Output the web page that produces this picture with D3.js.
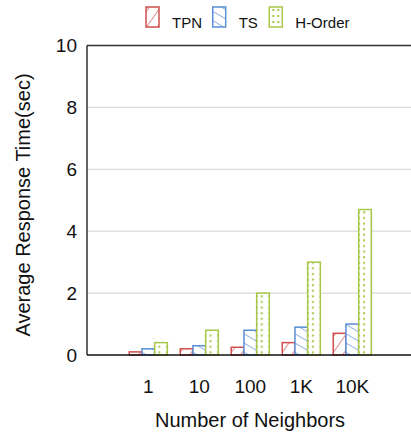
<!DOCTYPE html>
<html><head><meta charset="utf-8">
<script src="https://cdn.jsdelivr.net/npm/d3@7"></script>
<style>body{margin:0;background:#fff}svg{display:block;font-family:"Liberation Sans",Arial,sans-serif}</style>
</head><body><svg id="c" width="411" height="434"></svg>
<script>
const categories = ["1","10","100","1K","10K"];
const seriesNames = ["TPN","TS","H-Order"];
const TPN = [0.1,0.2,0.25,0.4,0.7];
const TS = [0.2,0.3,0.8,0.9,1.0];
const HOrder = [0.4,0.8,2.0,3.0,4.7];
const yTicks = [0,2,4,6,8,10];

const seriesData = [TPN, TS, HOrder];
const colors = ["#d0504e","#5a8ed6","#a8c648"];

const svg = d3.select("#c");
const L = 87, T = 45.5, B = 355, R = 430;
const y = d3.scaleLinear().domain([0,10]).range([B,T]);
const x0 = d3.scaleBand().domain(categories).range([122.8,377.8]);
const x1 = d3.scaleBand().domain(seriesNames).range([6.45,44.55]);

const defs = svg.append("defs");
// TPN "/" hatch
const p1 = defs.append("pattern").attr("id","pTPN").attr("patternUnits","userSpaceOnUse")
  .attr("width",9).attr("height",9).attr("patternTransform","rotate(35)");
p1.append("line").attr("x1",0).attr("y1",0).attr("x2",0).attr("y2",9).attr("stroke",colors[0]).attr("stroke-width",1.3);
const p2 = defs.append("pattern").attr("id","pTS").attr("patternUnits","userSpaceOnUse")
  .attr("width",8).attr("height",8).attr("patternTransform","rotate(-60)");
p2.append("line").attr("x1",0).attr("y1",0).attr("x2",0).attr("y2",8).attr("stroke",colors[1]).attr("stroke-width",1.3);

// grid
svg.append("g").selectAll("line").data(yTicks.filter(d=>d>0&&d<10)).join("line")
  .attr("x1",L).attr("x2",R).attr("y1",d=>y(d)).attr("y2",d=>y(d))
  .attr("stroke","#d9d9d9").attr("stroke-width",1.3);
svg.append("line").attr("x1",L).attr("x2",R).attr("y1",y(10)).attr("y2",y(10)).attr("stroke","#333").attr("stroke-width",1.3);

// bars
const groups = svg.append("g").selectAll("g").data(categories).join("g")
  .attr("transform",d=>`translate(${x0(d)},0)`);
groups.each(function(cat,ci){
  const g = d3.select(this);
  seriesNames.forEach((s,si)=>{
    const v = seriesData[si][ci];
    const bx = x0(cat)+x1(s), w = x1.bandwidth();
    let fill;
    if(si===0) fill="url(#pTPN)";
    else if(si===1) fill="url(#pTS)";
    else {
      const id="pH"+ci;
      const p = defs.append("pattern").attr("id",id).attr("patternUnits","userSpaceOnUse")
        .attr("x",bx).attr("y",B).attr("width",w).attr("height",5.6);
      p.append("rect").attr("x",w*0.3-1).attr("y",2).attr("width",2).attr("height",2).attr("fill",colors[2]);
      p.append("rect").attr("x",w*0.7-1).attr("y",2).attr("width",2).attr("height",2).attr("fill",colors[2]);
      fill="url(#"+id+")";
    }
    g.append("rect").attr("x",x1(s)).attr("y",y(v)).attr("width",w).attr("height",B-y(v))
      .attr("fill","#fff");
    g.append("rect").attr("x",x1(s)).attr("y",y(v)).attr("width",w).attr("height",B-y(v))
      .attr("fill",fill).attr("stroke",colors[si]).attr("stroke-width",1.5);
  });
});

// axes
svg.append("line").attr("x1",L).attr("x2",L).attr("y1",T).attr("y2",B).attr("stroke","#111").attr("stroke-width",1.3);
svg.append("line").attr("x1",L).attr("x2",R).attr("y1",B).attr("y2",B).attr("stroke","#111").attr("stroke-width",1.5);

const yAxis = d3.axisLeft(y).tickValues(yTicks).tickSize(0).tickPadding(10).tickFormat(d3.format("d"));
const ya = svg.append("g").attr("transform",`translate(${L},0)`).call(yAxis);
ya.select(".domain").remove();
ya.selectAll("text").attr("font-size",19).attr("fill","#111").attr("font-family","Liberation Sans, Arial, sans-serif");

const xAxis = d3.axisBottom(x0).tickSize(0).tickPadding(0);
const xa = svg.append("g").attr("transform",`translate(0,${B})`).call(xAxis);
xa.select(".domain").remove();
xa.selectAll("text").attr("font-size",19).attr("fill","#111").attr("dy",null).attr("y",38)
  .attr("font-family","Liberation Sans, Arial, sans-serif");

svg.append("text").attr("x",250).attr("y",427).attr("text-anchor","middle").attr("font-size",20).attr("fill","#111").text("Number of Neighbors");
svg.append("text").attr("transform","translate(30,205) rotate(-90)").attr("text-anchor","middle").attr("font-size",20).attr("fill","#111").text("Average Response Time(sec)");

// legend
const legX = [146,212.7,269.3];
const lg = svg.append("g").selectAll("g").data(seriesNames).join("g");
lg.each(function(s,i){
  const g = d3.select(this);
  let fill = i===0?"url(#pTPN)":i===1?"url(#pTS)":"url(#pLeg)";
  if(i===2){
    const p = defs.append("pattern").attr("id","pLeg").attr("patternUnits","userSpaceOnUse")
      .attr("x",legX[i]).attr("y",7).attr("width",13).attr("height",6);
    p.append("rect").attr("x",3).attr("y",2).attr("width",2).attr("height",2).attr("fill",colors[2]);
    p.append("rect").attr("x",8).attr("y",2).attr("width",2).attr("height",2).attr("fill",colors[2]);
  }
  g.append("rect").attr("x",legX[i]).attr("y",7).attr("width",13).attr("height",20).attr("fill",fill)
    .attr("stroke",colors[i]).attr("stroke-width",1.5);
  g.append("text").attr("x",legX[i]+26).attr("y",27.5).attr("font-size",15).attr("fill","#111").text(s);
});
</script></body></html>
